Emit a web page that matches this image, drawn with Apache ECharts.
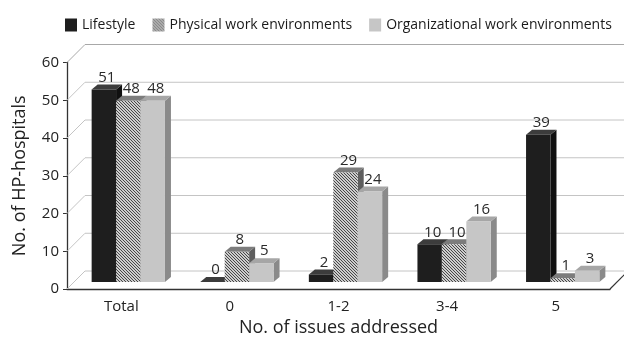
<!DOCTYPE html>
<html>
<head>
<meta charset="utf-8">
<script src="https://cdn.jsdelivr.net/npm/echarts@6/dist/echarts.min.js"></script>
<style>
    html, body { margin: 0; padding: 0; background: #fff; }
    #chart { width: 624px; height: 345px; }
</style>
</head>
<body>
<div id="chart"></div>
<script>
const categories = ['Total', '0', '1-2', '3-4', '5']
const lifestyle = [51, 0, 2, 10, 39]
const physical = [48, 8, 29, 10, 1]
const organizational = [48, 5, 24, 16, 3]
const seriesNames = ['Lifestyle', 'Physical work environments', 'Organizational work environments']
const yTicks = [0, 10, 20, 30, 40, 50, 60]

const FONT = '"Open Sans", "Noto Sans", sans-serif'
const WALL = [18, -18]   // back wall offset from the front axis
const PLANE = [7, -7]    // where the row of bars stands
const DEPTH = [6, -5]    // thickness of a bar

// small "\" hatch tile for the physical series
function makeHatch() {
    const c = document.createElement('canvas')
    c.width = 3
    c.height = 3
    const ctx = c.getContext('2d')
    ctx.fillStyle = '#cdcdcd'
    ctx.fillRect(0, 0, 3, 3)
    ctx.fillStyle = '#474747'
    for (let i = 0; i < 3; i++) ctx.fillRect(i, i, 1, 1)
    return c
}
const hatch = { image: makeHatch(), repeat: 'repeat' }

const faces = [
    { front: '#1e1e1e', top: '#3c3c3c', side: '#101010' },
    { front: hatch, top: '#7c7c7c', side: '#5e5e5e' },
    { front: '#c6c6c6', top: '#a6a6a6', side: '#8a8a8a' }
]

function wallItem(params, api) {
    const cs = params.coordSys
    const children = []
    yTicks.forEach(t => {
        const y = api.coord([0, t])[1]
        children.push({
            type: 'polyline',
            shape: { points: [[cs.x, y], [cs.x + WALL[0], y + WALL[1]], [640, y + WALL[1]]] },
            style: { stroke: t === 60 ? '#a8a8a8' : '#c4c4c4', lineWidth: 1, fill: null }
        })
    })
    const y0 = api.coord([0, 0])[1]
    const xr = cs.x + cs.width
    children.push({
        type: 'line',
        shape: { x1: xr, y1: y0, x2: xr + WALL[0], y2: y0 + WALL[1] },
        style: { stroke: '#333', lineWidth: 1.2 }
    })
    return { type: 'group', children }
}

function barItem(k) {
    return function (params, api) {
        const ci = api.value(0)
        const v = api.value(1)
        const top = api.coord([ci, v])
        const base = api.coord([ci, 0])
        const w = api.size([1, 0])[0] * 0.225
        const x0 = top[0] + PLANE[0] + (k - 1.5) * w
        const x1 = x0 + w
        const yt = top[1] + PLANE[1]
        const yb = base[1] + PLANE[1]
        const f = faces[k]
        return {
            type: 'group',
            children: [
                {
                    type: 'polygon',
                    shape: { points: [[x1, yb], [x1 + DEPTH[0], yb + DEPTH[1]], [x1 + DEPTH[0], yt + DEPTH[1]], [x1, yt]] },
                    style: { fill: f.side }
                },
                {
                    type: 'polygon',
                    shape: { points: [[x0, yt], [x0 + DEPTH[0], yt + DEPTH[1]], [x1 + DEPTH[0], yt + DEPTH[1]], [x1, yt]] },
                    style: { fill: f.top }
                },
                {
                    type: 'rect',
                    shape: { x: x0, y: yt, width: w, height: yb - yt },
                    style: { fill: f.front }
                },
                {
                    type: 'text',
                    style: {
                        text: String(v), x: (x0 + x1) / 2 + 3, y: yt - 12,
                        align: 'center', verticalAlign: 'middle',
                        font: '15px ' + FONT, fill: '#2a2a2a'
                    }
                }
            ]
        }
    }
}

const chart = echarts.init(document.getElementById('chart'), null, { renderer: 'canvas' })

const option = {
    animation: false,
    legend: {
        top: 13,
        left: 60,
        icon: 'rect',
        itemWidth: 12,
        itemHeight: 13,
        itemGap: 17,
        textStyle: { fontFamily: FONT, fontSize: 14, color: '#1a1a1a' },
        data: seriesNames
    },
    grid: { left: 67, right: 14, top: 62.5, bottom: 56 },
    xAxis: {
        type: 'category',
        data: categories,
        axisLine: { lineStyle: { color: '#333', width: 1.3 } },
        axisTick: { length: 4, lineStyle: { color: '#333' } },
        axisLabel: { fontFamily: FONT, fontSize: 15, color: '#222', margin: 10 },
        name: 'No. of issues addressed',
        nameLocation: 'middle',
        nameGap: 27,
        nameTextStyle: { fontFamily: FONT, fontSize: 18, color: '#222' }
    },
    yAxis: {
        type: 'value',
        min: 0,
        max: 60,
        interval: 10,
        axisLine: { show: true, lineStyle: { color: '#333', width: 1.3 } },
        axisTick: { show: true, length: 4, lineStyle: { color: '#333' } },
        splitLine: { show: false },
        axisLabel: { fontFamily: FONT, fontSize: 15, color: '#222', margin: 8 },
        name: 'No. of HP-hospitals',
        nameLocation: 'middle',
        nameGap: 38,
        nameTextStyle: { fontFamily: FONT, fontSize: 18, color: '#222' }
    },
    series: [
        {
            type: 'custom',
            name: 'walls',
            silent: true,
            renderItem: wallItem,
            data: [[0, 0]],
            encode: { x: 0, y: 1 },
            z: 1
        },
        {
            type: 'custom', name: seriesNames[0], renderItem: barItem(0),
            itemStyle: { color: faces[0].front },
            data: lifestyle.map((v, i) => [i, v]), encode: { x: 0, y: 1 }, z: 2
        },
        {
            type: 'custom', name: seriesNames[1], renderItem: barItem(1),
            itemStyle: { color: hatch },
            data: physical.map((v, i) => [i, v]), encode: { x: 0, y: 1 }, z: 3
        },
        {
            type: 'custom', name: seriesNames[2], renderItem: barItem(2),
            itemStyle: { color: faces[2].front },
            data: organizational.map((v, i) => [i, v]), encode: { x: 0, y: 1 }, z: 4
        }
    ]
}
chart.setOption(option)
</script>
</body>
</html>
